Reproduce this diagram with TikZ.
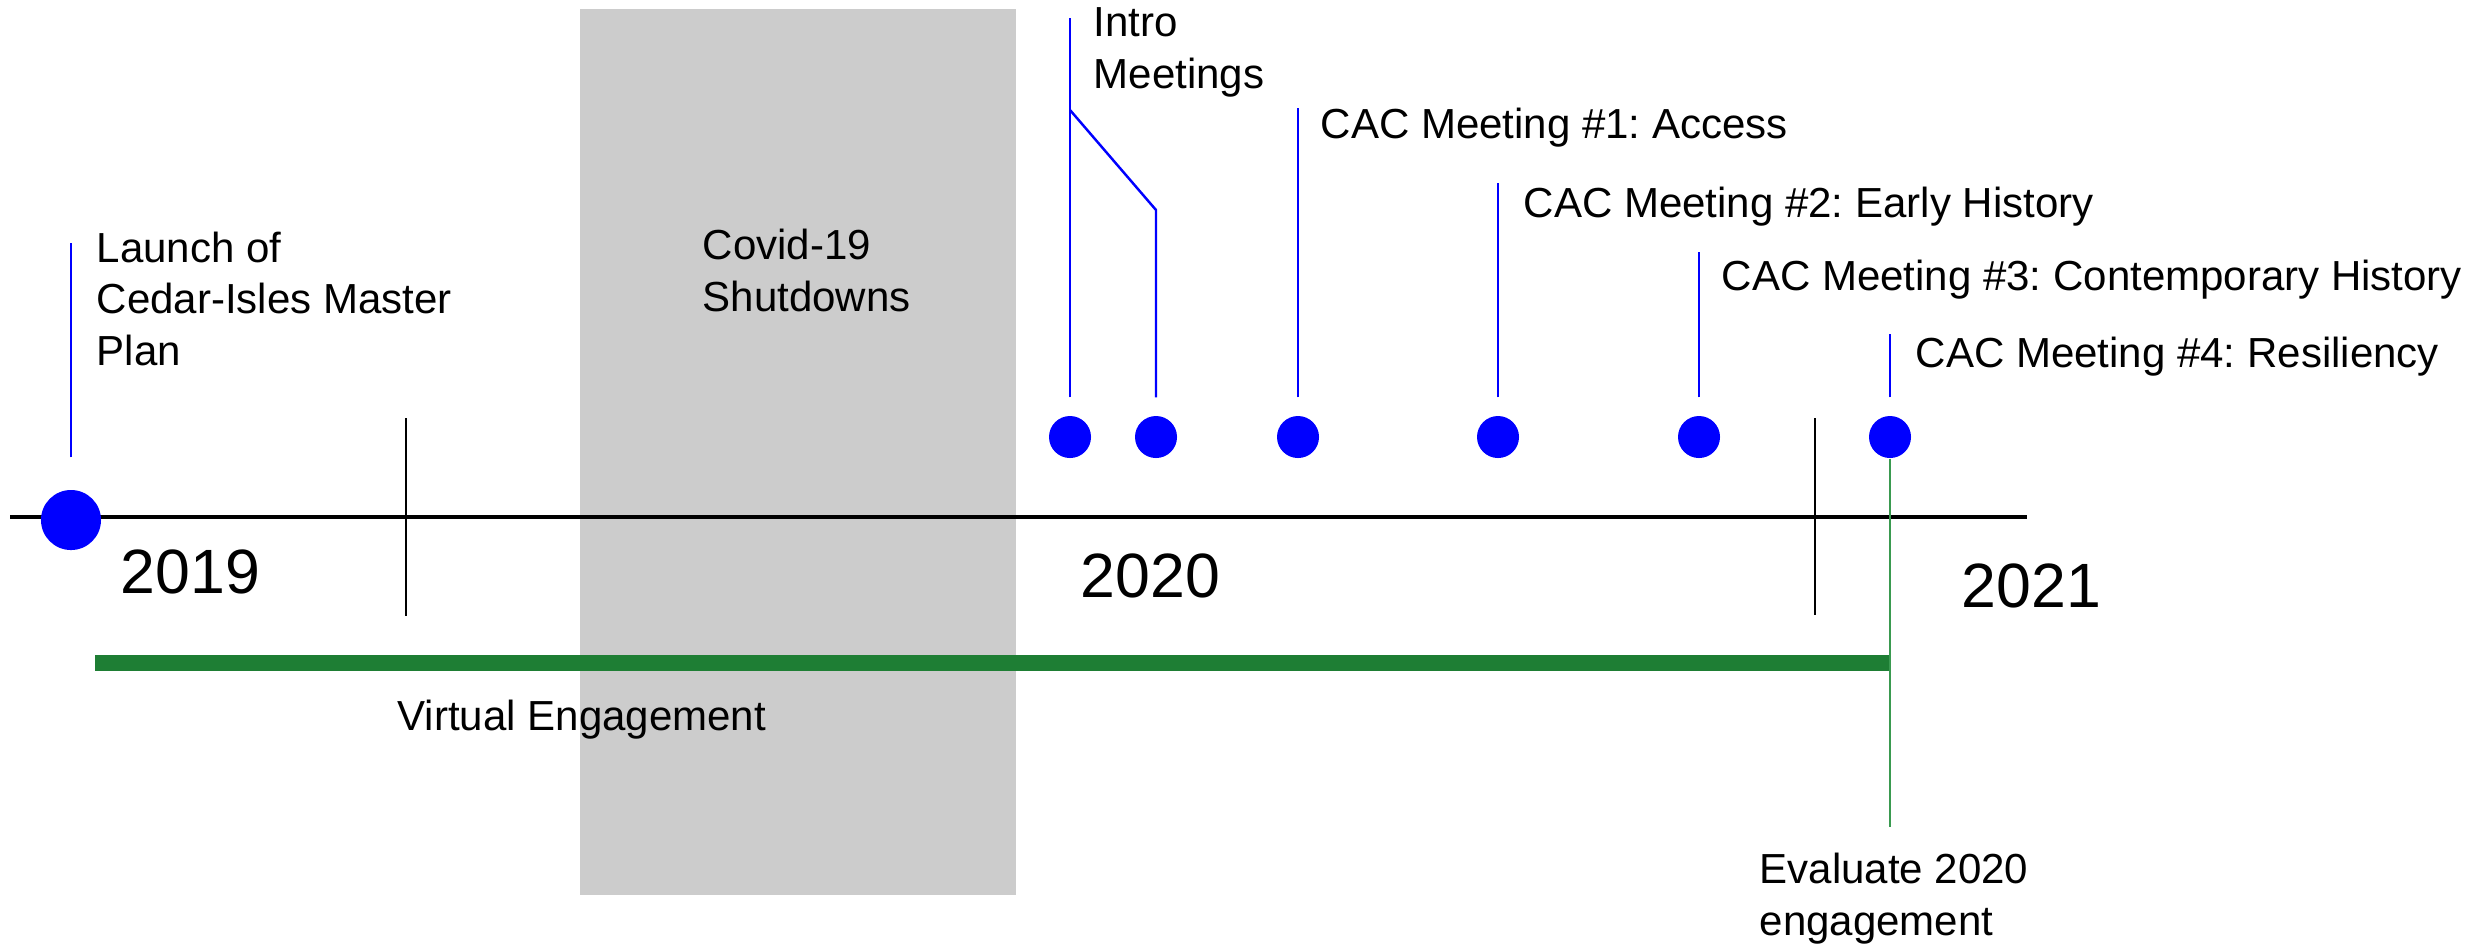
\documentclass[tikz,border=0pt]{standalone}
\usepackage{fontspec}
\setmainfont{Liberation Sans}
\frenchspacing
\definecolor{vert}{HTML}{1E7E34}
\definecolor{vertclair}{HTML}{3A9A50}
\definecolor{gris}{HTML}{CCCCCC}
\begin{document}
\begin{tikzpicture}[x=0.01cm,y=-0.01cm]
		% Styles
		\tikzstyle{axe}=[-,line width=1.1pt,black]
		\tikzstyle{graduation}=[-,line width=0.8pt,black]
		\tikzstyle{tige}=[-,line width=0.7pt,blue]
		\tikzstyle{filet}=[-,line width=0.8pt,vertclair]
		\tikzstyle{barre}=[-,line width=4.8pt,vert]
		\tikzstyle{point}=[circle,fill=blue,inner sep=0pt,minimum size=0.42cm]
		\tikzstyle{grospoint}=[circle,fill=blue,inner sep=0pt,minimum size=0.6cm]
		\tikzstyle{etiquette}=[anchor=base west,inner sep=0pt,align=left,font=\fontsize{11.95}{14.6}\selectfont]
		\tikzstyle{annee}=[anchor=base west,inner sep=0pt,font=\fontsize{17.8}{20}\selectfont]
		% Niveaux (en pixels, ligne de base de la derniere ligne)
		\def\NiveauAxe{517}
		\def\NiveauPoints{437}
		\def\NiveauBarre{663}
		\useasboundingbox (0,0) rectangle (2488,947);
		
		% Fond
		\fill[gris] (580,9) rectangle (1016,895);
		\draw[axe] (10,\NiveauAxe) -- (2027,\NiveauAxe);
		\draw[graduation] (406,418) -- (406,616);
		\draw[graduation] (1815,418) -- (1815,615);
		
		% Noeuds
		\node[grospoint] (d0) at (71,520) {};
		\node[point] (d1) at (1070,\NiveauPoints) {};
		\node[point] (d2) at (1156,\NiveauPoints) {};
		\node[point] (d3) at (1298,\NiveauPoints) {};
		\node[point] (d4) at (1498,\NiveauPoints) {};
		\node[point] (d5) at (1699,\NiveauPoints) {};
		\node[point] (d6) at (1890,\NiveauPoints) {};
		
		\node[etiquette] (l0) at (96,365) {Launch of\\Cedar-Isles Master\\Plan};
		\node[etiquette] (l1) at (1093,88) {Intro\\Meetings};
		\node[etiquette] (l3) at (1320,138) {CAC Meeting \#1: Access};
		\node[etiquette] (l4) at (1523,217) {CAC Meeting \#2: Early History};
		\node[etiquette] (l5) at (1721,290) {CAC Meeting \#3: Contemporary History};
		\node[etiquette] (l6) at (1915,367) {CAC Meeting \#4: Resiliency};
		\node[etiquette] (covid) at (702,311) {Covid-19\\Shutdowns};
		\node[etiquette] (virtuel) at (397,730) {Virtual Engagement};
		\node[etiquette] (eval) at (1759,935) {Evaluate 2020\\engagement};
		
		\node[annee] (a2019) at (120,593) {2019};
		\node[annee] (a2020) at (1080,597) {2020};
		\node[annee] (a2021) at (1961,607) {2021};
		
		\coordinate (fourche) at (1070,110);
		\coordinate (coude) at (1156,210);
		
		% Tiges
		\draw[tige,shorten <=0.32cm] (d0.north) -- (d0 |- 0,243);
		\draw[tige,shorten <=0.18cm] (d1.north) -- (d1 |- 0,18);
		\draw[tige,shorten >=0.18cm] (fourche) -- (coude) -- (d2.north);
		\draw[tige,shorten <=0.18cm] (d3.north) -- (d3 |- 0,108);
		\draw[tige,shorten <=0.18cm] (d4.north) -- (d4 |- 0,183);
		\draw[tige,shorten <=0.18cm] (d5.north) -- (d5 |- 0,252);
		\draw[tige,shorten <=0.18cm] (d6.north) -- (d6 |- 0,334);
		
		% Engagement
		\draw[barre] (95,\NiveauBarre) -- (d6 |- 0,\NiveauBarre);
		\draw[filet] (d6.south) -- (d6 |- 0,827);
		
	\end{tikzpicture}
\end{document}
